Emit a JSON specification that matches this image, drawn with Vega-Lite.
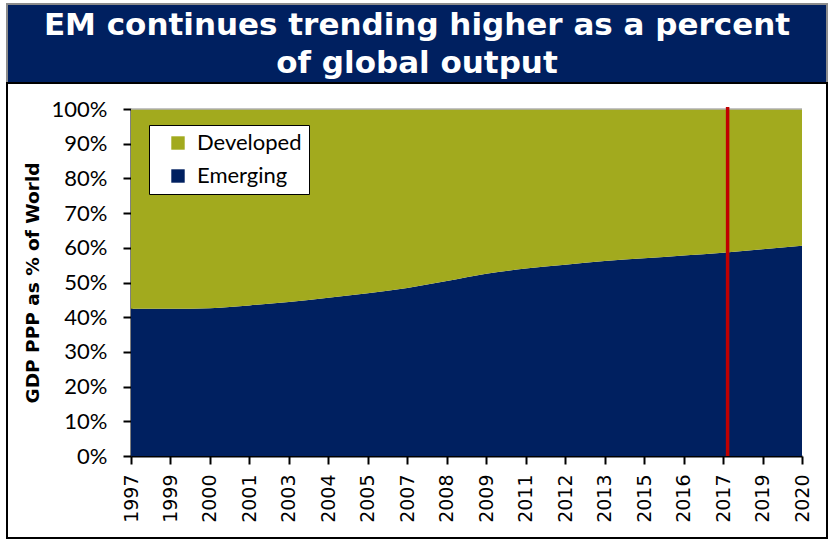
{
  "$schema": "https://vega.github.io/schema/vega-lite/v6.json",
  "padding": {"top": 3, "left": 6, "right": 0, "bottom": 0},
  "background": "white",
  "spacing": 0,
  "bounds": "flush",
  "vconcat": [
    {
      "width": 820,
      "height": 79,
      "view": {"fill": "#002060", "stroke": "#8c8c8c", "strokeWidth": 2},
      "data": {"values": [{"title": "EM continues trending higher as a percent\nof global output"}]},
      "mark": {"type": "text", "color": "white", "font": "DejaVu Sans", "fontWeight": "bold", "fontSize": 31, "lineBreak": "\n", "lineHeight": 38, "align": "center", "baseline": "alphabetic", "dy": -8.5},
      "encoding": {"text": {"field": "title", "type": "nominal"}}
    },
    {
      "width": 820,
      "height": 455,
      "view": {"stroke": "black", "strokeWidth": 2},
      "resolve": {"scale": {"x": "independent"}},
      "layer": [
        {
          "data": {"values": [
            {"year": "1997", "series": "Emerging", "share": 0.424}, {"year": "1997", "series": "Developed", "share": 0.576},
            {"year": "1999", "series": "Emerging", "share": 0.424}, {"year": "1999", "series": "Developed", "share": 0.576},
            {"year": "2000", "series": "Emerging", "share": 0.426}, {"year": "2000", "series": "Developed", "share": 0.574},
            {"year": "2001", "series": "Emerging", "share": 0.434}, {"year": "2001", "series": "Developed", "share": 0.566},
            {"year": "2003", "series": "Emerging", "share": 0.444}, {"year": "2003", "series": "Developed", "share": 0.556},
            {"year": "2004", "series": "Emerging", "share": 0.456}, {"year": "2004", "series": "Developed", "share": 0.544},
            {"year": "2005", "series": "Emerging", "share": 0.469}, {"year": "2005", "series": "Developed", "share": 0.531},
            {"year": "2007", "series": "Emerging", "share": 0.484}, {"year": "2007", "series": "Developed", "share": 0.516},
            {"year": "2008", "series": "Emerging", "share": 0.504}, {"year": "2008", "series": "Developed", "share": 0.496},
            {"year": "2009", "series": "Emerging", "share": 0.525}, {"year": "2009", "series": "Developed", "share": 0.475},
            {"year": "2011", "series": "Emerging", "share": 0.540}, {"year": "2011", "series": "Developed", "share": 0.460},
            {"year": "2012", "series": "Emerging", "share": 0.551}, {"year": "2012", "series": "Developed", "share": 0.449},
            {"year": "2013", "series": "Emerging", "share": 0.562}, {"year": "2013", "series": "Developed", "share": 0.438},
            {"year": "2015", "series": "Emerging", "share": 0.570}, {"year": "2015", "series": "Developed", "share": 0.430},
            {"year": "2016", "series": "Emerging", "share": 0.578}, {"year": "2016", "series": "Developed", "share": 0.422},
            {"year": "2017", "series": "Emerging", "share": 0.586}, {"year": "2017", "series": "Developed", "share": 0.414},
            {"year": "2019", "series": "Emerging", "share": 0.596}, {"year": "2019", "series": "Developed", "share": 0.404},
            {"year": "2020", "series": "Emerging", "share": 0.606}, {"year": "2020", "series": "Developed", "share": 0.394}
          ]},
          "mark": {"type": "area", "interpolate": "monotone", "opacity": 1},
          "encoding": {
            "x": {
              "field": "year", "type": "ordinal",
              "scale": {"type": "point", "padding": 0, "range": [124, 795]},
              "axis": {
                "title": null, "labelAngle": -90, "offset": -82, "labelOverlap": false,
                "labelFont": "DejaVu Sans", "labelFontSize": 19, "labelColor": "black", "labelPadding": 10,
                "tickSize": 8, "tickWidth": 2, "tickColor": "black",
                "domainColor": "black", "domainWidth": 2, "grid": false
              }
            },
            "y": {
              "field": "share", "type": "quantitative", "stack": "zero",
              "scale": {"domain": [0, 1], "range": [373, 26], "nice": false},
              "axis": {
                "values": [0, 0.1, 0.2, 0.3, 0.4, 0.5, 0.6, 0.7, 0.8, 0.9, 1],
                "format": ".0%", "offset": -124, "grid": false,
                "labelFont": "Lato", "labelFontSize": 22, "labelColor": "black", "labelPadding": 16,
                "tickSize": 8, "tickWidth": 2, "tickColor": "black",
                "domainColor": "black", "domainWidth": 2,
                "title": "GDP PPP as % of World", "titleFont": "DejaVu Sans", "titleFontWeight": "bold",
                "titleFontSize": 18.5, "titleColor": "black", "titlePadding": 9
              }
            },
            "color": {
              "field": "series", "type": "nominal",
              "scale": {"domain": ["Developed", "Emerging"], "range": ["#A2AA1E", "#002060"]},
              "legend": {
                "orient": "none", "legendX": 142, "legendY": 121, "title": null,
                "fillColor": "white", "strokeColor": "black", "padding": 7,
                "symbolType": "square", "symbolSize": 180, "symbolStrokeWidth": 0, "symbolOpacity": 1, "symbolOffset": 11,
                "labelFont": "Lato", "labelFontSize": 22, "labelColor": "black", "rowPadding": 11, "labelOffset": 8
              }
            },
            "order": {"field": "series", "sort": "descending"}
          }
        },
        {
          "data": {"values": [{"top": 1}]},
          "mark": {"type": "rule", "color": "#b0b0b0", "strokeWidth": 1.5},
          "encoding": {
            "x": {"datum": "1997", "type": "ordinal", "scale": {"type": "point", "padding": 0, "range": [124, 795]}, "axis": null},
            "x2": {"datum": "2020"},
            "y": {"field": "top", "type": "quantitative"}
          }
        },
        {
          "data": {"values": [{"forecast_start": 2017.45, "top": 1.006, "bottom": 0}]},
          "mark": {"type": "rule", "color": "#C00000", "strokeWidth": 3.5},
          "encoding": {
            "x": {"field": "forecast_start", "type": "quantitative", "scale": {"domain": [1997, 2020], "range": [124, 795], "zero": false}, "axis": null},
            "y": {"field": "top", "type": "quantitative"},
            "y2": {"field": "bottom"}
          }
        }
      ]
    }
  ]
}
